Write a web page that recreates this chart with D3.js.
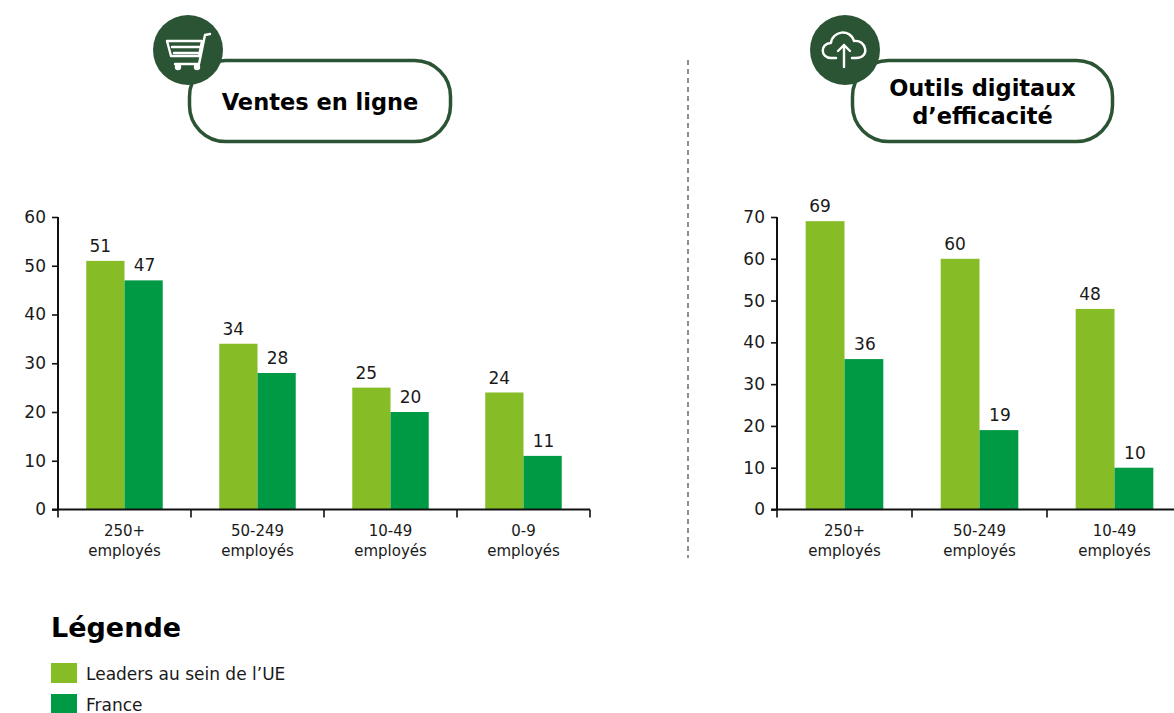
<!DOCTYPE html>
<html><head><meta charset="utf-8">
<script src="https://cdn.jsdelivr.net/npm/d3@7"></script>
<style>html,body{margin:0;padding:0;background:#fff;overflow:hidden}text{font-family:"DejaVu Sans",Verdana,sans-serif}</style>
</head><body><svg id="c" width="1174" height="713"></svg>
<script>
const seriesNames = ["Leaders au sein de l’UE", "France"];
const seriesColors = ["#86bc25", "#009a44"];
const catsA = ["250+|employés", "50-249|employés", "10-49|employés", "0-9|employés"];
const leadersA = [51, 34, 25, 24];
const franceA = [47, 28, 20, 11];
const ticksA = [0, 10, 20, 30, 40, 50, 60];
const catsB = ["250+|employés", "50-249|employés", "10-49|employés"];
const leadersB = [69, 60, 48];
const franceB = [36, 19, 10];
const ticksB = [0, 10, 20, 30, 40, 50, 60, 70];
const dark = "#2b5434", ink = "#1a1a1a";
const svg = d3.select("#c");

function chart(cats, s1, s2, ticks, yMax, x0, x1) {
  const g = svg.append("g");
  const x = d3.scaleBand().domain(cats).range([x0, x1]).paddingInner(0.425).paddingOuter(0.2125);
  const inner = d3.scaleBand().domain([0, 1]).range([0, x.bandwidth()]);
  const y = d3.scaleLinear().domain([0, yMax]).range([509.5, 217]);
  cats.forEach((c, i) => {
    [s1[i], s2[i]].forEach((v, k) => {
      const bx = x(c) + inner(k);
      g.append("rect").attr("x", bx).attr("y", y(v)).attr("width", inner.bandwidth())
        .attr("height", y(0) - y(v)).attr("fill", seriesColors[k]);
      g.append("text").attr("x", bx + inner.bandwidth() / 2 + (k ? 1 : -5)).attr("y", y(v) - 9)
        .attr("text-anchor", "middle").attr("font-size", 17).attr("fill", ink).text(v);
    });
  });
  const ay = g.append("g").attr("transform", `translate(${x0},0)`)
    .call(d3.axisLeft(y).tickValues(ticks).tickSize(6).tickPadding(6).tickFormat(d3.format("d")));
  ay.select(".domain").attr("stroke", "#111").attr("stroke-width", 2).attr("d", `M0,${y(yMax)}V${y(0)}`);
  ay.selectAll(".tick line").attr("stroke", "#111").attr("stroke-width", 1.6);
  ay.selectAll("text").attr("font-size", 17).attr("fill", ink).style("font-family", '"DejaVu Sans"');
  const step = x.step();
  const boundaries = d3.range(cats.length + 1).map(i => x0 + i * step);
  const ax = g.append("g");
  ax.append("line").attr("x1", x0 - 6).attr("x2", x1).attr("y1", y(0)).attr("y2", y(0)).attr("stroke", "#111").attr("stroke-width", 2);
  boundaries.forEach(b => ax.append("line").attr("x1", b).attr("x2", b).attr("y1", y(0)).attr("y2", y(0) + 8).attr("stroke", "#111").attr("stroke-width", 1.6));
  cats.forEach(c => {
    const t = ax.append("text").attr("text-anchor", "middle").attr("font-size", 15).attr("fill", ink);
    c.split("|").forEach((l, i) => t.append("tspan").attr("x", x(c) + x.bandwidth() / 2).attr("y", 536 + i * 19.5).text(l));
  });
}
chart(catsA, leadersA, franceA, ticksA, 60, 58, 590);
chart(catsB, leadersB, franceB, ticksB, 70, 777, 1182);

svg.append("line").attr("x1", 688).attr("x2", 688).attr("y1", 60).attr("y2", 558)
  .attr("stroke", "#44546a").attr("stroke-width", 1.3).attr("stroke-dasharray", "5 4");

function badge(bx, by, bw, bh, cx, lines, icon) {
  svg.append("rect").attr("x", bx).attr("y", by).attr("width", bw).attr("height", bh).attr("rx", 36)
    .attr("fill", "#fff").attr("stroke", dark).attr("stroke-width", 3.5);
  svg.append("circle").attr("cx", cx).attr("cy", 50).attr("r", 35).attr("fill", dark);
  const t = svg.append("text").attr("text-anchor", "middle").attr("font-size", 22.5).attr("font-weight", "bold").attr("fill", "#000");
  lines.forEach((l, i) => t.append("tspan").attr("x", bx + bw / 2).attr("y", (lines.length > 1 ? 96 : 110) + i * 28).text(l));
  const ig = svg.append("g").attr("fill", "none").attr("stroke", "#fff").attr("stroke-width", 2.4)
    .attr("stroke-linecap", "round").attr("stroke-linejoin", "round").attr("transform", `translate(${cx},50)`);
  icon(ig);
}
badge(189.5, 60.5, 261, 81, 188, ["Ventes en ligne"], g => {
  g.append("path").attr("d", "M22,-16L17,-15L11,14H-13");
  g.append("path").attr("d", "M-21,-9H14L11,6H-17Z");
  g.append("path").attr("d", "M-16,-3H12M-14,3H10");
  g.append("circle").attr("cx", -10).attr("cy", 17).attr("r", 2).attr("fill", "#fff");
  g.append("circle").attr("cx", 9).attr("cy", 17).attr("r", 2).attr("fill", "#fff");
});
badge(852.5, 60.5, 260, 81, 845, ["Outils digitaux", "d’efficacité"], g => {
  g.append("path").attr("d", "M-9,8H-14C-25,8 -25,-7 -14,-7C-13,-19 5,-22 9,-9C21,-11 26,8 11,8H7");
  g.append("path").attr("d", "M-1,17V-5M-7,1L-1,-5L5,1");
});

svg.append("text").attr("x", 51).attr("y", 637).attr("font-size", 27).attr("font-weight", "bold").attr("fill", "#000").text("Légende");
seriesNames.forEach((n, i) => {
  const yy = 663 + i * 31;
  svg.append("rect").attr("x", 51).attr("y", yy).attr("width", 26).attr("height", 20).attr("fill", seriesColors[i]);
  svg.append("text").attr("x", 86).attr("y", yy + 17).attr("font-size", 17).attr("fill", ink).text(n);
});
</script></body></html>
